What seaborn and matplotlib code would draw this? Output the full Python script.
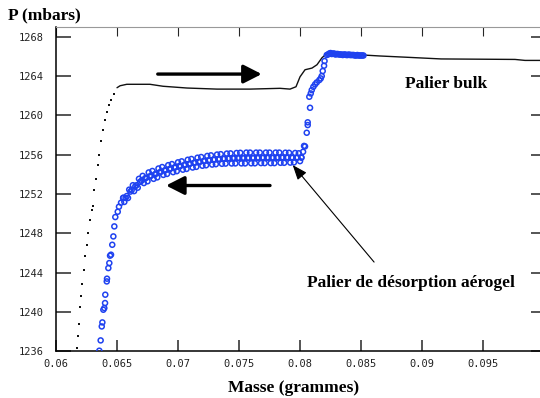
import matplotlib
matplotlib.use("agg")
import matplotlib.pyplot as plt
import seaborn as sns

# black curve: sparse dots of the fast rise
rise_x = [0.06170, 0.06178, 0.06186, 0.06197, 0.06205, 0.06216, 0.06230, 0.06240,
          0.06254, 0.06265, 0.06279, 0.06293, 0.06301, 0.06314, 0.06328, 0.06342,
          0.06355, 0.06369, 0.06383, 0.06399, 0.06416, 0.06432, 0.06451, 0.06473]
rise_p = [1236.37, 1237.52, 1238.81, 1240.47, 1241.66, 1242.88, 1244.23, 1245.65,
          1246.84, 1248.03, 1249.39, 1250.40, 1250.81, 1252.44, 1253.53, 1254.98,
          1256.00, 1257.35, 1258.54, 1259.56, 1260.40, 1261.09, 1261.60, 1262.21]

# black curve: dense part (bulk plateau)
bulk_x = [0.06500, 0.06525, 0.06580, 0.06770, 0.06877, 0.07074, 0.07320, 0.07590,
          0.07836, 0.07918, 0.07967, 0.08000, 0.08041, 0.08098, 0.08139, 0.08180,
          0.08219, 0.08516, 0.08656, 0.08877, 0.09156, 0.09762, 0.09844, 0.09967]
bulk_p = [1262.82, 1263.02, 1263.17, 1263.17, 1262.97, 1262.79, 1262.68, 1262.68,
          1262.76, 1262.68, 1262.92, 1263.93, 1264.65, 1264.82, 1265.16, 1265.87,
          1266.30, 1266.15, 1266.05, 1265.92, 1265.75, 1265.70, 1265.60, 1265.60]

# blue circles: desorption, rise from the bottom
des_rise_x = [0.06355, 0.06366, 0.06375, 0.06380, 0.06388, 0.06396, 0.06402, 0.06404,
              0.06416, 0.06418, 0.06429, 0.06437, 0.06443, 0.06451, 0.06461, 0.06470,
              0.06478, 0.06486, 0.06506, 0.06516, 0.06533, 0.06552]
des_rise_p = [1236.06, 1237.11, 1238.53, 1238.94, 1240.23, 1240.40, 1240.91, 1241.76,
              1243.11, 1243.39, 1244.47, 1244.98, 1245.73, 1245.83, 1246.84, 1247.69,
              1248.71, 1249.66, 1250.20, 1250.71, 1251.12, 1251.63]

# blue circles: aerogel plateau (two interleaved oscillating runs)
band_x = [0.0655, 0.0657, 0.0659, 0.0661, 0.0663, 0.0665, 0.0667, 0.0669, 0.0671, 0.0673,
          0.0675, 0.0677, 0.0679, 0.0681, 0.0683, 0.0685, 0.0687, 0.0689, 0.0691, 0.0693,
          0.0695, 0.0697, 0.0699, 0.0701, 0.0703, 0.0705, 0.0707, 0.0709, 0.0711, 0.0713,
          0.0715, 0.0717, 0.0719, 0.0721, 0.0723, 0.0725, 0.0727, 0.0729, 0.0731, 0.0733,
          0.0735, 0.0737, 0.0739, 0.0741, 0.0743, 0.0745, 0.0747, 0.0749, 0.0751, 0.0753,
          0.0755, 0.0757, 0.0759, 0.0761, 0.0763, 0.0765, 0.0767, 0.0769, 0.0771, 0.0773,
          0.0775, 0.0777, 0.0779, 0.0781, 0.0783, 0.0785, 0.0787, 0.0789, 0.0791, 0.0793,
          0.0795, 0.0797, 0.0799, 0.0801]
band_p = [1251.60, 1251.60, 1251.60, 1252.25, 1252.90, 1252.80, 1252.65, 1253.25, 1253.85, 1253.60,
          1253.30, 1253.80, 1254.35, 1254.00, 1253.70, 1254.20, 1254.75, 1254.40, 1254.05, 1254.55,
          1255.05, 1254.70, 1254.33, 1254.85, 1255.33, 1254.95, 1254.56, 1255.07, 1255.57, 1255.17,
          1254.77, 1255.27, 1255.77, 1255.36, 1254.93, 1255.43, 1255.94, 1255.50, 1255.04, 1255.55,
          1256.06, 1255.60, 1255.10, 1255.62, 1256.14, 1255.65, 1255.12, 1255.66, 1256.20, 1255.67,
          1255.12, 1255.67, 1256.22, 1255.68, 1255.13, 1255.68, 1256.22, 1255.70, 1255.15, 1255.70,
          1256.22, 1255.70, 1255.15, 1255.70, 1256.22, 1255.72, 1255.18, 1255.72, 1256.20, 1255.72,
          1255.22, 1255.70, 1256.15, 1255.75]
band2_x = [0.0656, 0.0658, 0.0660, 0.0662, 0.0664, 0.0666, 0.0668, 0.0670, 0.0672, 0.0674,
           0.0676, 0.0678, 0.0680, 0.0682, 0.0684, 0.0686, 0.0688, 0.0690, 0.0692, 0.0694,
           0.0696, 0.0698, 0.0700, 0.0702, 0.0704, 0.0706, 0.0708, 0.0710, 0.0712, 0.0714,
           0.0716, 0.0718, 0.0720, 0.0722, 0.0724, 0.0726, 0.0728, 0.0730, 0.0732, 0.0734,
           0.0736, 0.0738, 0.0740, 0.0742, 0.0744, 0.0746, 0.0748, 0.0750, 0.0752, 0.0754,
           0.0756, 0.0758, 0.0760, 0.0762, 0.0764, 0.0766, 0.0768, 0.0770, 0.0772, 0.0774,
           0.0776, 0.0778, 0.0780, 0.0782, 0.0784, 0.0786, 0.0788, 0.0790, 0.0792, 0.0794,
           0.0796, 0.0798, 0.0800]
band2_p = [1251.20, 1251.80, 1252.45, 1252.40, 1252.30, 1252.90, 1253.55, 1253.35, 1253.12, 1253.66,
           1254.20, 1253.88, 1253.55, 1254.08, 1254.60, 1254.28, 1253.95, 1254.45, 1254.94, 1254.60,
           1254.23, 1254.73, 1255.23, 1254.86, 1254.48, 1254.98, 1255.49, 1255.10, 1254.70, 1255.20,
           1255.70, 1255.29, 1254.88, 1255.38, 1255.88, 1255.45, 1255.00, 1255.51, 1256.02, 1255.56,
           1255.08, 1255.60, 1256.12, 1255.63, 1255.11, 1255.66, 1256.18, 1255.67, 1255.12, 1255.67,
           1256.22, 1255.68, 1255.13, 1255.68, 1256.22, 1255.70, 1255.15, 1255.70, 1256.22, 1255.70,
           1255.15, 1255.70, 1256.22, 1255.72, 1255.18, 1255.72, 1256.21, 1255.72, 1255.20, 1255.70,
           1256.18, 1255.72, 1255.35]

# blue circles: jump back up to the bulk plateau
jump_x = [0.08012, 0.08025, 0.08033, 0.08041, 0.08055, 0.08063, 0.08063, 0.08082, 0.08076,
          0.08088, 0.08096, 0.08109, 0.08123, 0.08137, 0.08158, 0.08170, 0.08178, 0.08186,
          0.08197, 0.08201, 0.08219, 0.08232]
jump_p = [1255.70, 1256.30, 1256.90, 1256.85, 1258.24, 1259.02, 1259.30, 1260.78, 1261.90,
          1262.24, 1262.58, 1262.91, 1263.16, 1263.36, 1263.60, 1263.77, 1264.01, 1264.52,
          1265.06, 1265.54, 1266.15, 1266.22]

top_x = [0.0824, 0.0825, 0.0826, 0.0827, 0.0828, 0.0829, 0.0830, 0.0831, 0.0832, 0.0833,
         0.0834, 0.0835, 0.0836, 0.0837, 0.0838, 0.0839, 0.0840, 0.0841, 0.0842, 0.0843,
         0.0844, 0.0845, 0.0846, 0.0847, 0.0848, 0.0849, 0.0850, 0.0851, 0.0852]
top_p = [1266.30, 1266.35, 1266.25, 1266.30, 1266.30, 1266.20, 1266.25, 1266.25, 1266.20, 1266.20,
         1266.20, 1266.15, 1266.20, 1266.20, 1266.15, 1266.15, 1266.20, 1266.15, 1266.15, 1266.15,
         1266.15, 1266.10, 1266.10, 1266.15, 1266.10, 1266.10, 1266.10, 1266.10, 1266.10]

x_ticks = [0.06, 0.065, 0.07, 0.075, 0.08, 0.085, 0.09, 0.095]
x_labels = ["0.06", "0.065", "0.07", "0.075", "0.08", "0.085", "0.09", "0.095"]
y_ticks = [1236, 1240, 1244, 1248, 1252, 1256, 1260, 1264, 1268]

BLUE = "#1f42f0"
W, H = 540, 398

sns.set_style("white")
plt.rcParams["font.family"] = ["Liberation Serif", "DejaVu Serif"]

fig = plt.figure(figsize=(W / 100, H / 100), dpi=100)
ax = fig.add_axes([56 / W, 1 - 351.3 / H, (541 - 56) / W, (351.3 - 27) / H])

sns.scatterplot(x=rise_x, y=rise_p, ax=ax, marker="s", s=1.3, color="#111111",
                linewidth=0, zorder=2)
sns.lineplot(x=bulk_x, y=bulk_p, ax=ax, sort=False, estimator=None, color="#111111",
             linewidth=1.0, zorder=2)

circle_kw = dict(ax=ax, marker="o", s=13, facecolors="none", edgecolor=BLUE,
                 linewidth=1.1, zorder=3)
for xs, ps in [(des_rise_x, des_rise_p), (band_x, band_p), (band2_x, band2_p),
               (jump_x, jump_p), (top_x, top_p)]:
    sns.scatterplot(x=xs, y=ps, **circle_kw)

ax.set_xlim(0.06, 0.09975)
ax.set_ylim(1236, 1269)
ax.set_xticks(x_ticks, x_labels)
ax.set_yticks(y_ticks)
ax.set_xlabel("")
ax.set_ylabel("")

# thick arrows
ax.annotate("", xy=(0.07686, 1264.21), xytext=(0.06834, 1264.21),
            arrowprops=dict(arrowstyle="-|>,head_length=0.55,head_width=0.28",
                            mutation_scale=20, lw=2.4, color="black",
                            shrinkA=0, shrinkB=0))
ax.annotate("", xy=(0.06902, 1252.87), xytext=(0.07754, 1252.87),
            arrowprops=dict(arrowstyle="-|>,head_length=0.55,head_width=0.28",
                            mutation_scale=20, lw=2.4, color="black",
                            shrinkA=0, shrinkB=0))
# thin pointer to the aerogel plateau
ax.annotate("", xy=(0.07940, 1254.95), xytext=(0.08607, 1245.08),
            arrowprops=dict(arrowstyle="-|>,head_length=0.9,head_width=0.35",
                            mutation_scale=10, lw=0.8, color="black",
                            shrinkA=0, shrinkB=0))

mono = "DejaVu Sans Mono"
ax.tick_params(axis="both", direction="in", labelsize=7.5, labelcolor="#222222",
               labelfontfamily=mono)
ax.tick_params(axis="y", left=True, right=True, length=10.5, width=1.1, pad=9)
ax.tick_params(axis="x", bottom=True, top=True, length=8, width=1.1, pad=5.5)
for t in ax.yaxis.get_major_ticks():
    t.tick2line.set_markersize(7.5)
for t in ax.xaxis.get_major_ticks():
    t.tick2line.set_markersize(6.5)
    t.tick2line.set_markeredgewidth(0.8)

for side in ["left", "bottom"]:
    ax.spines[side].set_linewidth(1.1)
    ax.spines[side].set_color("black")
ax.spines["top"].set_linewidth(0.8)
ax.spines["top"].set_color("#999999")
ax.spines["right"].set_visible(False)

bold = dict(fontsize=12.5, fontweight="bold", color="black", va="baseline")
fig.text(8 / W, 1 - 19.7 / H, "P (mbars)", ha="left", **bold)
fig.text(294 / W, 1 - 392 / H, "Masse (grammes)", ha="center", **bold)
fig.text(405 / W, 1 - 88 / H, "Palier bulk", ha="left", **bold)
fig.text(307 / W, 1 - 287 / H, "Palier de désorption aérogel", ha="left", **bold)

fig.savefig("out.png", dpi=100)
